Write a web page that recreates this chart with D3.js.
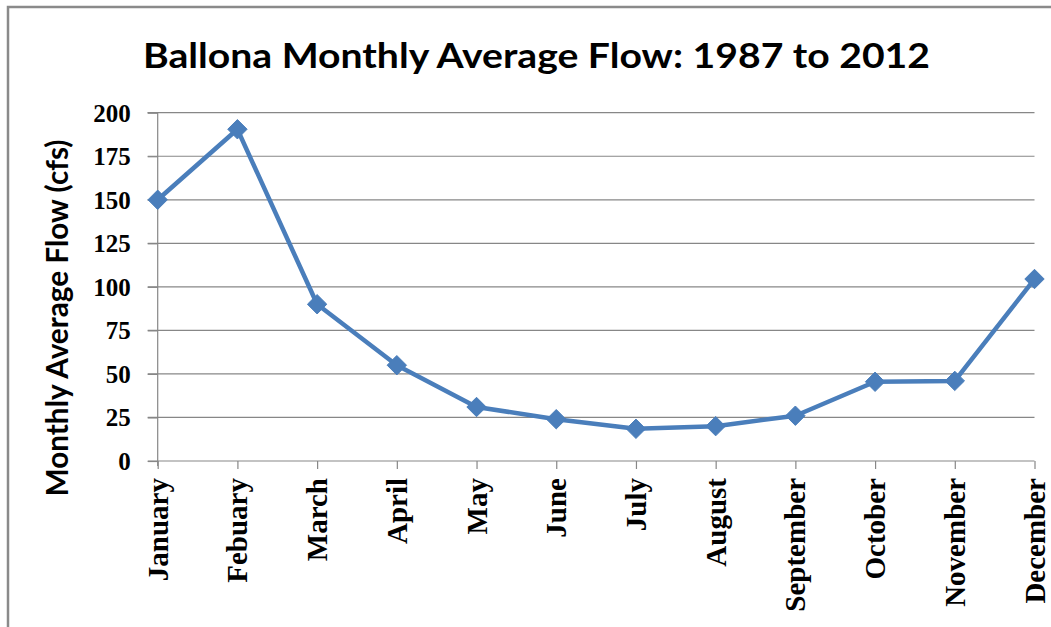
<!DOCTYPE html>
<html>
<head>
<meta charset="utf-8">
<script src="https://cdn.jsdelivr.net/npm/d3@7"></script>
<style>
html,body{margin:0;padding:0;background:#fff;}
svg{display:block;}
</style>
</head>
<body>
<svg id="chart" width="1051" height="627"></svg>
<script>
const months = ["January","Febuary","March","April","May","June","July","August","September","October","November","December"];
const flows = [150, 190.5, 90, 55, 31, 24, 18.5, 20, 26, 45.5, 46, 104.5];
const yTicks = [0, 25, 50, 75, 100, 125, 150, 175, 200];
const titleText = "Ballona Monthly Average Flow: 1987 to 2012";
const yTitleText = "Monthly Average Flow (cfs)";

const svg = d3.select("#chart");
const W = 1051, H = 627;
const pLeft = 157.7, pRight = 1034.5, pTop = 112.7, pBottom = 461;

// outer frame
svg.append("rect").attr("x", 8).attr("y", 7).attr("width", W + 20).attr("height", H + 20)
  .attr("fill", "#fff").attr("stroke", "#8a8a8a").attr("stroke-width", 2.5);

const x = d3.scalePoint().domain(months).range([pLeft, pRight]);
const y = d3.scaleLinear().domain([0, 200]).range([pBottom, pTop]);

// gridlines
svg.append("g").selectAll("line").data(yTicks.filter(d => d > 0)).join("line")
  .attr("x1", pLeft - 10).attr("x2", pRight)
  .attr("y1", d => y(d)).attr("y2", d => y(d))
  .attr("stroke", "#878787").attr("stroke-width", 1.2);

// y axis
const yAxis = d3.axisLeft(y).tickValues(yTicks).tickSize(10).tickPadding(17).tickFormat(d3.format("d"));
const gy = svg.append("g").attr("transform", `translate(${pLeft},0)`).call(yAxis);
gy.select(".domain").attr("stroke", "#878787").attr("stroke-width", 1.2).attr("d", `M-10,${pTop}H0V${pBottom + 5}`);
gy.selectAll(".tick line").attr("stroke", "#878787").attr("stroke-width", 1.2);
gy.selectAll(".tick text").attr("font-family", "'Liberation Serif','Times New Roman',serif")
  .attr("font-weight", "bold").attr("font-size", 25).attr("fill", "#000").attr("dy", "0.34em");

// x axis
const xAxis = d3.axisBottom(x).tickSize(8).tickPadding(0);
const gx = svg.append("g").attr("transform", `translate(0,${pBottom})`).call(xAxis);
gx.select(".domain").attr("stroke", "#878787").attr("stroke-width", 1.2).attr("d", `M${pLeft - 10},0H${pRight}`);
gx.selectAll(".tick line").attr("stroke", "#878787").attr("stroke-width", 1.2);
gx.selectAll(".tick text")
  .attr("font-family", "'Liberation Serif','Times New Roman',serif")
  .attr("font-weight", "bold").attr("font-size", 29).attr("fill", "#000")
  .attr("text-anchor", "end")
  .attr("transform", "translate(0,17) rotate(-90)")
  .attr("x", 0).attr("y", 0).attr("dy", "0.33em");

// line
const line = d3.line().x((d, i) => x(months[i])).y(d => y(d));
svg.append("path").datum(flows).attr("d", line)
  .attr("fill", "none").attr("stroke", "#4a7ebb").attr("stroke-width", 4.5).attr("stroke-linejoin", "round");

// markers
const diamond = d3.symbol().type(d3.symbolDiamond2).size(240);
svg.append("g").selectAll("path").data(flows).join("path")
  .attr("d", diamond)
  .attr("transform", (d, i) => `translate(${x(months[i])},${y(d)})`)
  .attr("fill", "#4a7ebb").attr("stroke", "#4a7ebb").attr("stroke-width", 1);

// title
svg.append("text").attr("x", 536.5).attr("y", 67.5).attr("text-anchor", "middle")
  .attr("font-family", "Lato, 'Open Sans', sans-serif").attr("font-weight", "bold")
  .attr("font-size", 34.5).attr("fill", "#000")
  .attr("textLength", 787).attr("lengthAdjust", "spacingAndGlyphs")
  .text(titleText);

// y title
svg.append("text").attr("transform", "translate(67.5,318) rotate(-90)").attr("text-anchor", "middle")
  .attr("font-family", "Lato, 'Open Sans', sans-serif").attr("font-weight", "bold")
  .attr("font-size", 30).attr("fill", "#000")
  .attr("textLength", 357).attr("lengthAdjust", "spacingAndGlyphs")
  .text(yTitleText);
</script>
</body>
</html>
